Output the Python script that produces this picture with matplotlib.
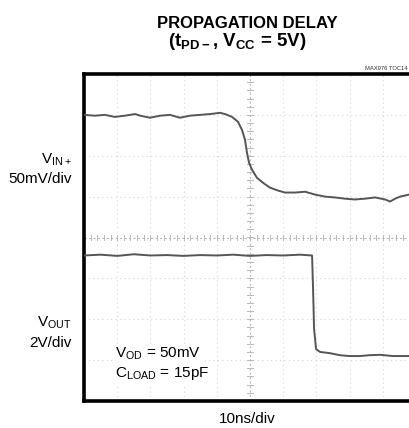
import matplotlib
matplotlib.use("Agg")
import matplotlib.pyplot as plt
import numpy as np

FONT = ["Liberation Sans Narrow", "Liberation Sans", "DejaVu Sans"]
plt.rcParams["font.family"] = FONT
plt.rcParams["mathtext.fontset"] = "custom"
plt.rcParams["mathtext.rm"] = "Liberation Sans"
plt.rcParams["mathtext.bf"] = "Liberation Sans:bold"

# scope traces: time in ns (10ns/div), amplitude in divisions from centre
vin_t = [0, 3.3, 6.3, 9.3, 12.3, 15.4, 16.9, 19.9, 22.9, 25.9, 28.9, 31.9, 34.9,
         38.0, 41.0, 42.5, 44.6, 46.4, 47.6, 48.5, 49.1, 49.7, 50.6, 52.1, 53.9,
         56.0, 58.4, 60.5, 63.6, 66.6, 69.6, 72.6, 75.6, 78.6, 81.6, 84.6, 87.7,
         90.7, 92.2, 93.7, 95.2, 97.9]
vin_v = [3.00, 2.98, 3.00, 2.95, 2.98, 3.02, 2.98, 2.93, 2.98, 3.00, 2.93, 2.98, 3.00,
         3.02, 3.05, 3.02, 2.95, 2.83, 2.63, 2.39, 2.07, 1.83, 1.66, 1.46, 1.34,
         1.22, 1.15, 1.10, 1.10, 1.12, 1.05, 1.00, 0.98, 0.95, 0.93, 0.95, 0.98,
         0.93, 0.88, 0.95, 1.00, 1.05]

vout_t = [0, 5, 10, 15, 20, 25, 30, 35, 40, 45, 50, 55, 60, 65, 68.7, 69.0, 69.3,
          69.9, 71.1, 74.1, 77.1, 80, 83.1, 86, 89.2, 93, 97.9]
vout_v = [-0.44, -0.42, -0.45, -0.41, -0.44, -0.43, -0.45, -0.43, -0.44, -0.42,
          -0.45, -0.43, -0.44, -0.42, -0.44, -1.27, -2.24, -2.73, -2.80, -2.83,
          -2.88, -2.90, -2.90, -2.88, -2.87, -2.90, -2.90]

W, H = 409, 428


def fx(x):
    return x / W


def fy(y):
    return 1 - y / H


fig = plt.figure(figsize=(W / 100, H / 100), dpi=100)
ax = fig.add_axes([fx(84), fy(401), 332 / W, 327 / H])
ax.set_xlim(0, 100)
ax.set_ylim(-4, 4)
ax.set_xticks([])
ax.set_yticks([])
for s in ax.spines.values():
    s.set_linewidth(2.6)
    s.set_color("black")

# graticule
grid_c = "#d6d6d6"
for gx in range(10, 100, 10):
    if gx != 50:
        ax.plot([gx, gx], [-4, 4], color=grid_c, lw=0.8, ls=(0, (1, 3)), zorder=1)
for gy in range(-3, 4):
    if gy != 0:
        ax.plot([0, 100], [gy, gy], color=grid_c, lw=0.8, ls=(0, (1, 3)), zorder=1)
ax.plot([50, 50], [-4, 4], color="#b8b8b8", lw=0.8, ls=(0, (2, 2)), zorder=1)
ax.plot([0, 100], [0, 0], color="#b8b8b8", lw=0.8, ls=(0, (2, 2)), zorder=1)
for tx in np.arange(2, 100, 2):
    ax.plot([tx, tx], [-0.07, 0.07], color="#b8b8b8", lw=0.7, zorder=1)
for ty in np.arange(-4, 4.01, 0.2):
    ax.plot([49.2, 50.8], [ty, ty], color="#b8b8b8", lw=0.7, zorder=1)

ax.plot(vin_t, vin_v, color="#555555", lw=1.4, zorder=3)
ax.plot(vout_t, vout_v, color="#555555", lw=1.4, zorder=3)

# labels
fig.text(fx(247), fy(24), "PROPAGATION DELAY", ha="center", va="center",
         fontsize=12, fontweight="bold")
fig.text(fx(237), fy(42), r"(t$_{\mathbf{PD-}}$, V$_{\mathbf{CC}}$ = 5V)", ha="center",
         va="center", fontsize=13.5, fontweight="bold")
fig.text(fx(408), fy(68), "MAX976 TOC14", ha="right", va="center", fontsize=4.2,
         color="#333333")

fig.text(fx(72), fy(160), r"V$_{\mathrm{IN+}}$", ha="right", va="center", fontsize=11)
fig.text(fx(72), fy(179), "50mV/div", ha="right", va="center", fontsize=11)
fig.text(fx(72), fy(323), r"V$_{\mathrm{OUT}}$", ha="right", va="center", fontsize=11)
fig.text(fx(72), fy(343), "2V/div", ha="right", va="center", fontsize=11)
fig.text(fx(247), fy(419), "10ns/div", ha="center", va="center", fontsize=11)

fig.text(fx(115), fy(354), r"V$_{\mathrm{OD}}$ = 50mV", ha="left", va="center",
         fontsize=11, bbox=dict(facecolor="white", edgecolor="none", pad=1))
fig.text(fx(115), fy(374), r"C$_{\mathrm{LOAD}}$ = 15pF", ha="left", va="center",
         fontsize=11, bbox=dict(facecolor="white", edgecolor="none", pad=1))

fig.savefig("out.png", dpi=100)
